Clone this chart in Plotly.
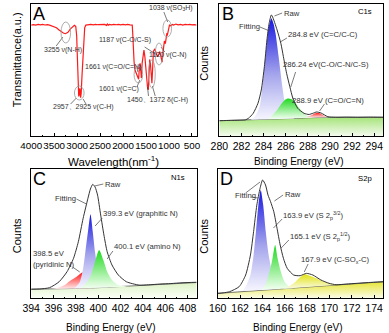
import plotly.graph_objects as go

# ---------------- data ----------------
ftir_wavenumber = [4000, 3950, 3900, 3850, 3800, 3750, 3700, 3650, 3600, 3550, 3500, 3450, 3400, 3350, 3300,
                   3255, 3200, 3150, 3100, 3060, 3030, 3010, 2995, 2985, 2975, 2965, 2957, 2945, 2935, 2925,
                   2912, 2895, 2875, 2855, 2835, 2810, 2780, 2750, 2700, 2650, 2600, 2550, 2500, 2450, 2400,
                   2360, 2340, 2320, 2300, 2250, 2200, 2150, 2100, 2050, 2000, 1950, 1900, 1850, 1820, 1800,
                   1790, 1775, 1760, 1740, 1720, 1700, 1680, 1661, 1645, 1630, 1615, 1601, 1585, 1565, 1545,
                   1525, 1505, 1485, 1465, 1450, 1435, 1420, 1405, 1390, 1372, 1355, 1340, 1310, 1280, 1250,
                   1220, 1200, 1187, 1170, 1150, 1135, 1120, 1100, 1080, 1060, 1045, 1038, 1025, 1010, 990,
                   960, 930, 900, 850, 800, 750, 700, 650, 600, 550, 500, 450, 400]
ftir_transmittance = [84.0, 84.4, 84.0, 84.6, 84.2, 84.5, 84.1, 84.4, 84.0, 83.5, 83.0, 82.0, 80.5, 79.0, 78.0,
                      77.5, 78.5, 81.0, 83.0, 83.8, 83.0, 76.0, 60.0, 45.0, 32.0, 30.0, 31.0, 36.0, 35.0, 29.0,
                      32.0, 45.0, 62.0, 76.0, 82.0, 84.0, 84.2, 84.0, 84.5, 84.2, 84.6, 84.3, 84.5, 84.2, 84.5,
                      83.8, 84.8, 84.0, 84.5, 84.2, 84.6, 84.3, 84.6, 84.2, 84.5, 84.2, 84.5, 84.2, 84.0, 84.0,
                      78.0, 65.0, 56.0, 50.0, 48.0, 47.0, 45.0, 43.0, 52.0, 55.0, 50.0, 44.0, 55.0, 63.0, 65.0,
                      60.0, 50.0, 40.0, 36.0, 35.0, 45.0, 58.0, 55.0, 45.0, 40.0, 52.0, 64.0, 66.0, 63.0, 60.0,
                      62.0, 64.0, 62.0, 58.0, 56.0, 62.0, 66.0, 72.0, 70.0, 76.0, 78.0, 76.0, 79.0, 82.0, 84.0,
                      83.5, 84.5, 84.0, 84.8, 84.2, 84.6, 84.0, 84.5, 84.3, 84.6, 84.2, 84.4, 84.0]
ftir_ticks = [4000, 3500, 3000, 2500, 2000, 1500, 1000, 500]

# C1s
c1s_raw_ev = [280.0, 281.0, 282.0, 282.35, 282.63, 283.06, 283.49, 283.79, 284.07, 284.30, 284.50, 284.70, 284.78,
              285.22, 285.56, 285.79, 286.08, 286.37, 286.65, 287.08, 287.66, 288.1, 288.45, 288.8, 289.2, 289.81,
              290.5, 291.5, 292.5, 293.5, 294.8]
c1s_raw = [11.6, 11.8, 12.0, 12.2, 13.4, 17.2, 24.8, 34.8, 52.5, 72.7, 85.4, 91.7, 90.9,
           80.3, 70.2, 60.1, 47.5, 37.4, 28.5, 21.0, 17.2, 16.3, 17.2, 18.2, 17.4, 14.6,
           14.2, 14.3, 14.2, 14.3, 14.2]
c1s_bg_ev = [280, 282, 283, 284, 285, 286, 287, 288, 289, 290, 292, 294.8]
c1s_bg = [11.6, 12.0, 12.2, 12.4, 12.7, 13.0, 13.4, 13.8, 14.1, 14.2, 14.2, 14.2]
c1s_cc_ev = [282.6, 282.87, 283.21, 283.64, 283.92, 284.22, 284.45, 284.70, 284.9, 285.08, 285.36, 285.65, 285.94,
             286.37, 286.8, 287.1]
c1s_cc = [12.3, 12.5, 14.6, 22.2, 40.0, 65.2, 82.0, 89.2, 85.0, 77.8, 60.1, 40.0, 24.8, 15.9, 13.3, 13.2]
c1s_co_ev = [284.4, 284.65, 285.22, 285.65, 286.0, 286.22, 286.5, 286.8, 287.23, 287.8, 288.37, 288.6]
c1s_co = [13.0, 14.6, 19.7, 24.8, 27.8, 28.5, 28.0, 26.0, 21.0, 15.9, 14.0, 13.9]
c1s_cn_ev = [287.7, 287.94, 288.37, 288.6, 288.8, 289.0, 289.23, 289.5, 289.81, 290.0]
c1s_cn = [13.9, 14.4, 15.9, 17.0, 17.7, 17.4, 16.5, 15.2, 14.2, 14.2]

# N1s
n1s_raw_ev = [394.0, 394.77, 395.64, 396.5, 397.21, 397.79, 398.22, 398.65, 399.08, 399.3, 399.51, 399.72, 399.94,
              400.22, 400.51, 400.8, 401.23, 401.8, 402.52, 403.66, 404.5, 405.5, 406.5, 407.5, 408.8]
n1s_raw = [6.8, 7.0, 8.0, 12.6, 20.4, 30.8, 43.6, 61.8, 77.3, 84.5, 88.1, 86.0, 79.8,
           64.3, 48.8, 35.9, 25.6, 17.8, 12.6, 10.0, 10.2, 10.8, 11.2, 11.8, 12.2]
n1s_bg_ev = [394, 396, 398, 400, 402, 404, 406, 408, 408.8]
n1s_bg = [6.8, 7.0, 7.4, 8.0, 8.8, 9.8, 10.7, 11.6, 12.0]
n1s_graphitic_ev = [397.7, 397.93, 398.36, 398.65, 398.85, 399.08, 399.31, 399.51, 399.71, 399.94, 400.22, 400.65, 400.9]
n1s_graphitic = [7.5, 8.0, 12.6, 23.0, 35.9, 51.4, 64.9, 51.4, 35.9, 23.0, 14.0, 9.5, 8.3]
n1s_amino_ev = [398.2, 398.4, 398.93, 399.36, 399.71, 400.08, 400.51, 400.8, 401.23, 401.8, 402.5, 402.8]
n1s_amino = [7.6, 8.0, 11.4, 17.8, 28.1, 37.2, 28.1, 20.4, 14.0, 10.0, 9.0, 8.8]
n1s_pyridinic_ev = [395.8, 396.5, 397.0, 397.36, 397.7, 398.07, 398.4, 398.65, 398.85, 399.02, 399.2, 399.5]
n1s_pyridinic = [7.0, 8.2, 10.0, 12.6, 14.6, 16.5, 18.8, 19.9, 17.8, 11.4, 8.0, 7.6]

# S2p
s2p_raw_ev = [160.0, 160.5, 161.06, 161.92, 162.5, 162.93, 163.21, 163.5, 163.79, 164.02, 164.28, 164.5, 164.73,
              165.02, 165.31, 165.59, 165.88, 166.22, 166.8, 167.38, 167.94, 168.52, 169.23, 169.96, 170.6, 171.5,
              172.5, 173.5, 174.8]
s2p_raw = [3.6, 4.0, 4.9, 8.8, 17.8, 33.3, 51.4, 72.0, 85.0, 91.5, 87.6, 79.8, 74.7,
           66.9, 54.0, 41.1, 30.8, 23.0, 17.8, 17.3, 19.1, 17.8, 14.0, 11.4, 10.3, 10.8,
           11.4, 12.0, 12.6]
s2p_bg_ev = [160, 162, 164, 166, 168, 170, 172, 174, 174.8]
s2p_bg = [3.6, 4.8, 6.0, 7.2, 8.5, 9.7, 10.9, 12.1, 12.6]
s2p_32_ev = [162.2, 162.5, 162.93, 163.21, 163.42, 163.64, 163.85, 164.07, 164.3, 164.56, 164.85, 165.22, 165.6]
s2p_32 = [5.5, 8.8, 17.8, 33.3, 51.4, 72.1, 83.7, 72.1, 51.4, 33.3, 20.4, 11.4, 7.0]
s2p_12_ev = [163.8, 164.22, 164.56, 164.85, 165.14, 165.36, 165.65, 165.99, 166.5, 166.8]
s2p_12 = [6.5, 9.5, 17.8, 28.1, 41.1, 30.8, 20.4, 12.6, 8.0, 7.6]
s2p_sox_ev = [165.8, 166.22, 166.8, 167.3, 167.8, 168.3, 168.8, 169.66, 170.2, 170.8]
s2p_sox = [7.2, 8.3, 11.4, 15.5, 18.4, 17.0, 15.3, 12.2, 11.0, 10.2]

# ---------------- figure ----------------
W, H = 389, 333
FONT = 'Arial, "Liberation Sans", sans-serif'
BLUE = [[0, '#f6f6ff'], [0.45, '#a4a4ec'], [1, '#1818e0']]
GREEN = [[0, '#f2fff0'], [1, '#1ed81e']]
RED = [[0, '#ffecec'], [1, '#ff1414']]
YELLOW = [[0, '#fbfbe2'], [1, '#e2e214']]

fig = go.Figure()


def background(xa, ya, ev, val, scale):
    fig.add_trace(go.Scatter(x=ev, y=val, xaxis=xa, yaxis=ya, mode='lines', fill='tozeroy',
                             line=dict(color='#555', width=0.8),
                             fillgradient=dict(type='vertical', colorscale=scale, start=0, stop=max(val)),
                             hoverinfo='skip'))


def component(xa, ya, ev, val, scale):
    fig.add_trace(go.Scatter(x=ev, y=val, xaxis=xa, yaxis=ya, mode='lines', fill='toself',
                             line=dict(width=0, shape='spline', smoothing=0.6),
                             fillgradient=dict(type='vertical', colorscale=scale),
                             hoverinfo='skip'))


def raw(xa, ya, ev, val):
    fig.add_trace(go.Scatter(x=ev, y=val, xaxis=xa, yaxis=ya, mode='lines',
                             line=dict(color='#333', width=1, shape='spline', smoothing=0.6),
                             hoverinfo='skip'))


# A: FTIR
fig.add_trace(go.Scatter(x=ftir_wavenumber, y=ftir_transmittance, xaxis='x', yaxis='y', mode='lines',
                         line=dict(color='#ff1a1a', width=1.2), hoverinfo='skip'))
# B: C1s
background('x2', 'y2', c1s_bg_ev, c1s_bg, [[0, '#f4fbee'], [1, '#a6e47a']])
component('x2', 'y2', c1s_cc_ev, c1s_cc, BLUE)
component('x2', 'y2', c1s_co_ev, c1s_co, GREEN)
component('x2', 'y2', c1s_cn_ev, c1s_cn, RED)
raw('x2', 'y2', c1s_raw_ev, c1s_raw)
# C: N1s
background('x3', 'y3', n1s_bg_ev, n1s_bg, [[0, '#fbfff7'], [1, '#ddf3c6']])
component('x3', 'y3', n1s_pyridinic_ev, n1s_pyridinic, RED)
component('x3', 'y3', n1s_graphitic_ev, n1s_graphitic, BLUE)
component('x3', 'y3', n1s_amino_ev, n1s_amino, GREEN)
raw('x3', 'y3', n1s_raw_ev, n1s_raw)
# D: S2p
background('x4', 'y4', s2p_bg_ev, s2p_bg, [[0, '#fcfce8'], [1, '#e6e636']])
component('x4', 'y4', s2p_32_ev, s2p_32, BLUE)
component('x4', 'y4', s2p_12_ev, s2p_12, GREEN)
component('x4', 'y4', s2p_sox_ev, s2p_sox, YELLOW)
raw('x4', 'y4', s2p_raw_ev, s2p_raw)


def xax(domain, anchor, rng, tick0, dtick, minor, size):
    return dict(domain=domain, anchor=anchor, range=rng, tick0=tick0, dtick=dtick, tickangle=0,
                showline=True, linecolor='black', linewidth=1, mirror=True,
                ticks='inside', ticklen=3, tickwidth=1, tickcolor='black',
                minor=dict(ticks='inside', ticklen=1.5, dtick=minor, tick0=tick0, tickcolor='black'),
                showgrid=False, zeroline=False,
                tickfont=dict(size=size, color='black', family=FONT))


def yax(domain, anchor):
    return dict(domain=domain, anchor=anchor, range=[0, 100], showticklabels=False, ticks='',
                showline=True, linecolor='black', linewidth=1, mirror=True,
                showgrid=False, zeroline=False)


top = [1 - 136 / H, 1 - 4 / H]
bot = [1 - 298 / H, 1 - 169 / H]
xA = xax([21 / W, 193 / W], 'y', [4000, 400], 4000, 500, 250, 9.8)
xA.update(tickmode='array', tickvals=ftir_ticks)
xA['minor'].update(tick0=500)

fig.update_layout(
    width=W, height=H, margin=dict(l=0, r=0, t=0, b=0),
    paper_bgcolor='white', plot_bgcolor='white', showlegend=False,
    font=dict(family=FONT, color='black'),
    xaxis=xA, yaxis=yax(top, 'x'),
    xaxis2=xax([216.7 / W, 387 / W], 'y2', [280, 294.8], 280, 2, 1, 10.5), yaxis2=yax(top, 'x2'),
    xaxis3=xax([21 / W, 193 / W], 'y3', [394, 408.8], 394, 2, 1, 10.5), yaxis3=yax(bot, 'x3'),
    xaxis4=xax([215 / W, 387 / W], 'y4', [160, 174.8], 160, 2, 1, 10.5), yaxis4=yax(bot, 'x4'),
)

anns = []
shapes = []


def P(px, py):
    return px / W, 1 - py / H


def text(px, py, s, size=7.7, anchor='left', color='#333', angle=0):
    x, y = P(px, py)
    anns.append(dict(x=x, y=y, xref='paper', yref='paper', text=s, showarrow=False, xanchor=anchor,
                     yanchor='middle', textangle=angle, borderpad=0,
                     font=dict(size=size, color=color, family=FONT)))


def leader(hx, hy, tx, ty):
    shapes.append(dict(type='line', xref='paper', yref='paper', x0=tx / W, y0=1 - ty / H,
                       x1=hx / W, y1=1 - hy / H, line=dict(color='#444', width=0.7)))


def ellipse(x0, y0, x1, y1):
    shapes.append(dict(type='circle', xref='paper', yref='paper', x0=x0 / W, x1=x1 / W,
                       y0=1 - y1 / H, y1=1 - y0 / H, line=dict(color='#999', width=0.8)))


# axis titles
text(107, 161, 'Wavelength(nm<sup>-1</sup>)', 11.5, 'center', 'black')
text(6.5, 60, 'Transmittance(a.u.)', 11, 'center', 'black', -90)
text(300, 161, 'Binding Energy (eV)', 10, 'center', 'black')
text(200.5, 63, 'Counts', 11, 'center', 'black', -90)
text(104, 327, 'Binding Energy (eV)', 10, 'center', 'black')
text(6.5, 236, 'Counts', 11, 'center', 'black', -90)
text(298, 327, 'Binding Energy (eV)', 10, 'center', 'black')
text(200.5, 236, 'Counts', 11, 'center', 'black', -90)

# panel letters
text(22, 14, 'A', 18, 'left', 'black')
text(218, 14, 'B', 18, 'left', 'black')
text(22, 179, 'C', 18, 'left', 'black')
text(216, 179, 'D', 18, 'left', 'black')
text(376, 12, 'C1s', 7.7, 'right', 'black')
text(182, 177, 'N1s', 7.7, 'right', 'black')
text(376, 178, 'S2p', 7.7, 'right', 'black')

# A annotations
text(33, 50, '3255 ν(N-H)', 7)
text(43, 107, '2957、2925 ν(C-H)', 7)
text(76, 67, '1661 ν(C=O/C=N)', 7)
text(90, 40, '1187 ν(C-O/C-S)', 7)
text(143, 55, '1120 ν(C-N)', 7)
text(143, 8, '1038 ν(SO<sub>3</sub>H)', 7)
text(90, 89, '1601 ν(C=C)', 7)
text(120, 99.5, '1450、1372 δ(C-H)', 7)
leader(54, 37, 47, 46)
leader(68, 98, 62, 104)
leader(75, 99, 78, 104)
leader(132, 72, 131, 68)
leader(152, 55, 139, 47)
leader(156, 47, 160, 52)
leader(163, 22, 159, 12)
leader(134, 80, 131, 87)
leader(142, 87, 143, 96)
leader(147, 86, 150, 96)
ellipse(52, 22, 62, 43)
ellipse(66, 86, 76, 100)
ellipse(128, 66, 137, 83)
ellipse(143, 60, 150, 88)
ellipse(150, 43, 158, 65)
ellipse(158, 20, 167, 37)

# B annotations
text(283, 13, 'Raw')
text(236, 26, 'Fitting')
text(287, 35, '284.8 eV (C=C/C-C)')
text(282, 65, '286.24 eV(C-O/C-N/C-S)')
text(291, 100, '288.9 eV (C=O/C=N)')
leader(274, 16, 282, 13)
leader(269, 31, 259, 27)
leader(280, 42, 287, 38)
leader(291, 87, 296, 72)
leader(321, 111, 326, 104)

# C annotations
text(97, 184, 'Raw')
text(45, 198.5, 'Fitting')
text(95, 213.5, '399.3 eV (graphitic N)')
text(106, 246, '400.1 eV (amino N)')
text(22, 253.5, '398.5 eV')
text(22, 264.5, '(pyridinic N)')
leader(87, 186, 96, 184)
leader(78.5, 204, 68, 199)
leader(87.5, 226, 95, 218)
leader(100, 259, 106, 251)
leader(71.5, 272, 64, 267)

# D annotations
text(232, 196, 'Fitting')
text(284, 194.5, 'Raw')
text(282, 215, '163.9 eV (S 2<sub>p</sub><sup>3/2</sup>)')
text(289, 236, '165.1 eV (S 2<sub>p</sub><sup>1/2</sup>)')
text(301, 260, '167.9 eV (C-SO<sub>x</sub>-C)')
leader(259, 182, 244, 193)
leader(257, 198, 250, 197)
leader(274, 201, 283, 195)
leader(273, 228, 282, 219)
leader(281, 248, 289, 240)
leader(305, 272, 309, 264)

fig.update_layout(annotations=anns, shapes=shapes)
fig.write_html('out.html', config={'displayModeBar': False, 'staticPlot': True},
               post_script="document.body.style.margin='0px';document.body.style.overflow='hidden';")
